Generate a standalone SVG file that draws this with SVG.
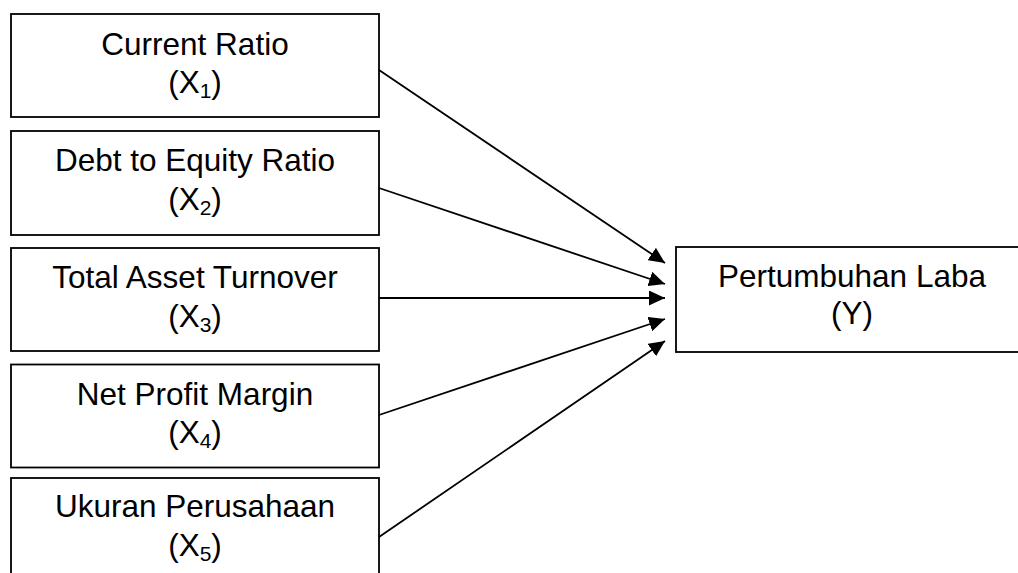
<svg xmlns="http://www.w3.org/2000/svg" width="1018" height="573" viewBox="0 0 1018 573">
  <style>
    .box { fill: #ffffff; stroke: #000000; stroke-width: 1.8; }
    .label { font-family: "Liberation Sans", Arial, sans-serif; font-size: 31.5px; fill: #000000; text-anchor: middle; }
    .sub { font-size: 21px; }
    .link { stroke: #000000; stroke-width: 1.8; fill: none; marker-end: url(#arrow); }
  </style>
  <defs>
    <marker id="arrow" markerUnits="userSpaceOnUse" markerWidth="17" markerHeight="15" refX="16" refY="7.5" orient="auto">
      <path d="M0,0 L16,7.5 L0,15 Z" fill="#000000"/>
    </marker>
  </defs>

  <rect width="1018" height="573" fill="#ffffff"/>

  <g id="node-x1">
    <rect class="box" x="11" y="14" width="368" height="103"/>
    <text class="label" x="195" y="55">Current Ratio</text>
    <text class="label" x="195" y="93">(X<tspan class="sub" dy="5">1</tspan><tspan dy="-5">)</tspan></text>
  </g>

  <g id="node-x2">
    <rect class="box" x="11" y="131" width="368" height="104"/>
    <text class="label" x="195" y="171">Debt to Equity Ratio</text>
    <text class="label" x="195" y="210">(X<tspan class="sub" dy="5">2</tspan><tspan dy="-5">)</tspan></text>
  </g>

  <g id="node-x3">
    <rect class="box" x="11" y="248" width="368" height="103"/>
    <text class="label" x="195" y="288">Total Asset Turnover</text>
    <text class="label" x="195" y="327">(X<tspan class="sub" dy="5">3</tspan><tspan dy="-5">)</tspan></text>
  </g>

  <g id="node-x4">
    <rect class="box" x="11" y="364.5" width="368" height="103"/>
    <text class="label" x="195" y="405">Net Profit Margin</text>
    <text class="label" x="195" y="443">(X<tspan class="sub" dy="5">4</tspan><tspan dy="-5">)</tspan></text>
  </g>

  <g id="node-x5">
    <rect class="box" x="11" y="478" width="368" height="110"/>
    <text class="label" x="195" y="517">Ukuran Perusahaan</text>
    <text class="label" x="195" y="556">(X<tspan class="sub" dy="5">5</tspan><tspan dy="-5">)</tspan></text>
  </g>

  <g id="node-y">
    <rect class="box" x="676" y="247" width="360" height="105"/>
    <text class="label" x="852" y="287">Pertumbuhan Laba</text>
    <text class="label" x="852" y="324">(Y)</text>
  </g>

  <g id="connectors">
    <line class="link" x1="379" y1="70" x2="665" y2="263"/>
    <line class="link" x1="379" y1="188" x2="665" y2="284"/>
    <line class="link" x1="379" y1="298" x2="665" y2="298"/>
    <line class="link" x1="379" y1="415" x2="665" y2="319"/>
    <line class="link" x1="379" y1="537" x2="665" y2="341"/>
  </g>
</svg>
